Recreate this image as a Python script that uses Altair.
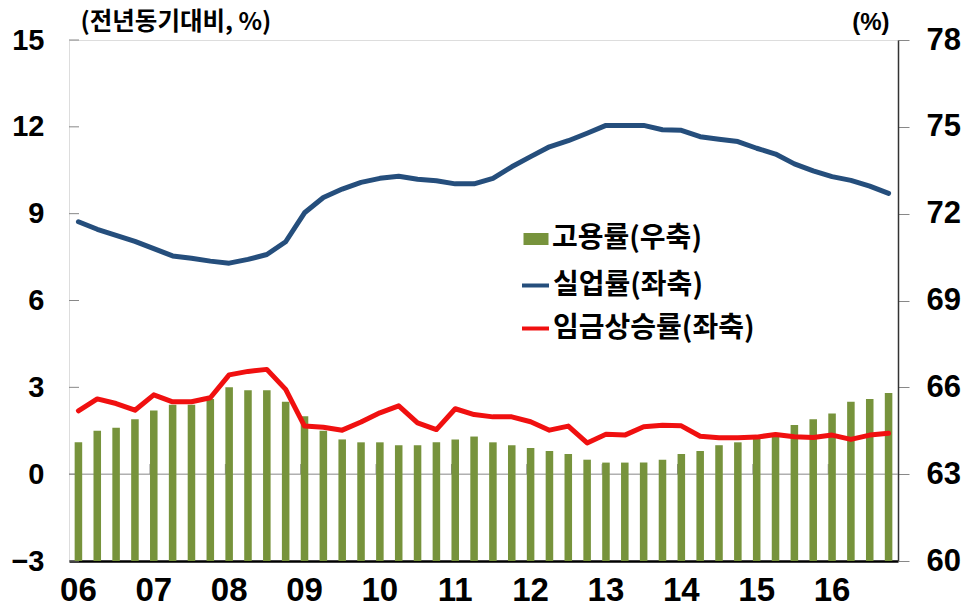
import altair as alt
import pandas as pd

# ---------------- data ----------------
years = ["2006", "2007", "2008", "2009", "2010", "2011", "2012", "2013", "2014", "2015", "2016"]
quarters = [f"{y}Q{q}" for y in years for q in (1, 2, 3, 4)]

# 고용률 (right axis, %)
employment = [64.1, 64.5, 64.6, 64.9, 65.2, 65.4, 65.4, 65.6,
              66.0, 65.9, 65.9, 65.5, 65.0, 64.5, 64.2, 64.1,
              64.1, 64.0, 64.0, 64.1, 64.2, 64.3, 64.1, 64.0,
              63.9, 63.8, 63.7, 63.5, 63.4, 63.4, 63.4, 63.5,
              63.7, 63.8, 64.0, 64.1, 64.25, 64.4, 64.7, 64.9,
              65.1, 65.5, 65.6, 65.8]

# 실업률 (left axis, %)
unemployment = [8.72, 8.46, 8.25, 8.04, 7.79, 7.54, 7.46, 7.36,
                7.29, 7.42, 7.59, 8.03, 9.03, 9.56, 9.85, 10.08,
                10.22, 10.29, 10.19, 10.14, 10.03, 10.03, 10.22, 10.62,
                10.97, 11.31, 11.52, 11.78, 12.05, 12.05, 12.05, 11.90,
                11.88, 11.66, 11.57, 11.49, 11.26, 11.06, 10.72, 10.48,
                10.28, 10.15, 9.95, 9.70]

# 임금상승률 (left axis, %)
wage = [2.19, 2.60, 2.44, 2.21, 2.74, 2.50, 2.50, 2.64,
        3.43, 3.55, 3.62, 2.93, 1.66, 1.62, 1.52, 1.80,
        2.12, 2.36, 1.77, 1.54, 2.26, 2.06, 1.98, 1.98,
        1.81, 1.52, 1.66, 1.08, 1.38, 1.35, 1.64, 1.69,
        1.67, 1.31, 1.26, 1.26, 1.28, 1.37, 1.29, 1.27,
        1.35, 1.20, 1.35, 1.41]

left_ticks = [-3, 0, 3, 6, 9, 12, 15]
right_ticks = [60, 63, 66, 69, 72, 75, 78]

S_EMP = "고용률(우축)"
S_UNEMP = "실업률(좌축)"
S_WAGE = "임금상승률(좌축)"

GREEN = "#77933C"
BLUE = "#254E7C"
RED = "#F01010"

W, H = 829, 521
NUM_FONT = "Liberation Sans"
KR_FONT = "Noto Sans CJK KR"

bar_df = pd.DataFrame({"q": quarters, "v": employment, "s": S_EMP})
line_df = pd.concat([
    pd.DataFrame({"q": quarters, "v": unemployment, "s": S_UNEMP}),
    pd.DataFrame({"q": quarters, "v": wage, "s": S_WAGE}),
])
year_ticks_df = pd.DataFrame({"q": [f"{y}Q1" for y in years[1:]]})
left_ticks_df = pd.DataFrame({"v": left_ticks})

x_scale = alt.Scale(domain=quarters, paddingInner=0.6, paddingOuter=0.3)
x_axis = alt.Axis(
    title=None,
    labelExpr="indexof(datum.value, 'Q1') > 0 ? substring(datum.value, 2, 4) : ''",
    labelAngle=0, ticks=False, domain=True, domainColor="#000", domainWidth=2.5,
    labelFont=NUM_FONT, labelFontSize=33, labelFontWeight="bold", labelColor="#000",
    labelPadding=13,
)
x_enc = alt.X("q:N", scale=x_scale, axis=x_axis, sort=quarters)

left_scale = alt.Scale(domain=[-3, 15], nice=False, zero=False)
right_scale = alt.Scale(domain=[60, 78], nice=False, zero=False)

left_axis = alt.Axis(
    title="(전년동기대비, %)", titleAngle=0, titleX=11, titleY=-18,
    titleAlign="left", titleBaseline="middle", titleFont=KR_FONT,
    titleFontSize=24.5, titleFontWeight="bold", titleColor="#000",
    values=left_ticks, ticks=False, domain=False, grid=False,
    labelFont=NUM_FONT, labelFontSize=29, labelFontWeight="bold",
    labelColor="#000", labelPadding=25,
)

# ---- base layer: left axis, zero line, inner ticks ----
zero_line = alt.Chart(pd.DataFrame({"v": [0]})).mark_rule(color="#888", strokeWidth=1).encode(
    y=alt.Y("v:Q", scale=left_scale, axis=left_axis),
)
inner_ticks = alt.Chart(left_ticks_df).mark_rule(color="#888", strokeWidth=1).encode(
    y=alt.Y("v:Q", scale=left_scale, axis=left_axis),
    x=alt.value(0), x2=alt.value(10),
)
year_ticks = alt.Chart(year_ticks_df).transform_calculate(v="0", v2="0.35").mark_rule(
    color="#888", strokeWidth=1
).encode(
    x=alt.X("q:N", scale=x_scale, axis=x_axis, sort=quarters, bandPosition=0),
    y=alt.Y("v:Q", scale=left_scale, axis=left_axis),
    y2="v2:Q",
)
base = alt.layer(zero_line, inner_ticks, year_ticks)

# ---- bars (right axis) ----
bars = alt.Chart(bar_df).mark_bar().encode(
    x=x_enc,
    y=alt.Y("v:Q", scale=right_scale, axis=alt.Axis(
        orient="right", title="(%)", titleAngle=0, titleX=-9, titleY=-18,
        titleAlign="right", titleBaseline="middle", titleFont=NUM_FONT,
        titleFontSize=24, titleFontWeight="bold", titleColor="#000",
        values=right_ticks, grid=False, domain=True, domainColor="#333", domainWidth=1.5,
        ticks=True, tickSize=11, tickColor="#888", tickWidth=1,
        labelFont=NUM_FONT, labelFontSize=31, labelFontWeight="bold",
        labelColor="#000", labelPadding=17,
    )),
    y2=alt.datum(60),
    fill=alt.Fill("s:N", scale=alt.Scale(domain=[S_EMP], range=[GREEN]), legend=alt.Legend(
        title=None, orient="none", legendX=453, legendY=185,
        symbolType="M-1,-0.48H1V0.48H-1Z", symbolSize=625, symbolStrokeWidth=0,
        labelFont=KR_FONT, labelFontSize=28, labelFontWeight="bold", labelColor="#000",
        labelOffset=2, padding=0, labelLimit=400,
    )),
)

# ---- lines (left axis) ----
lines = alt.Chart(line_df).mark_line(strokeWidth=5, strokeJoin="round", strokeCap="round").encode(
    x=x_enc,
    y=alt.Y("v:Q", scale=left_scale, axis=None),
    stroke=alt.Stroke("s:N", scale=alt.Scale(domain=[S_UNEMP, S_WAGE], range=[BLUE, RED]),
                      legend=alt.Legend(
                          title=None, orient="none", legendX=451, legendY=230,
                          symbolType="stroke", symbolSize=729, symbolStrokeWidth=4,
                          labelFont=KR_FONT, labelFontSize=28, labelFontWeight="bold",
                          labelColor="#000", labelOffset=2, rowPadding=13, padding=0,
                          labelLimit=400,
                      )),
    detail="s:N",
)

chart = alt.layer(base, bars, lines).resolve_scale(
    y="independent", fill="independent", stroke="independent"
).properties(
    width=W, height=H,
    autosize=alt.AutoSizeParams(type="none"),
    padding={"left": 69, "top": 40, "right": 78, "bottom": 55},
).configure_view(
    stroke="#000", strokeWidth=2
).configure(background="white")

chart.save("out.html", embed_options={"renderer": "svg", "actions": False})
